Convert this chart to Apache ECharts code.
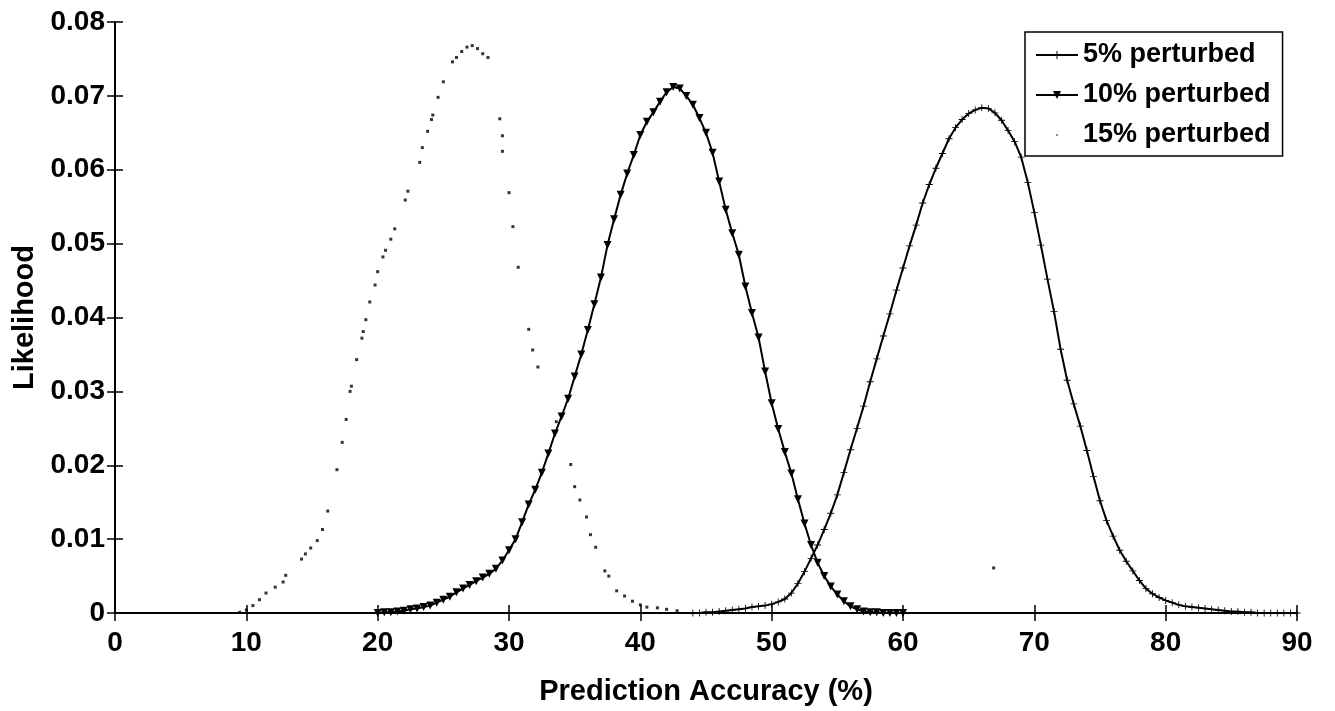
<!DOCTYPE html>
<html>
<head>
<meta charset="utf-8">
<title>Likelihood vs Prediction Accuracy</title>
<script src="https://cdn.jsdelivr.net/npm/echarts@6/dist/echarts.min.js"></script>
<style>
  html, body { margin: 0; padding: 0; background: #fff; }
  #chart { width: 1335px; height: 711px; }
</style>
</head>
<body>
<div id="chart"></div>
<script>
// 5% perturbed
const acc5 = [44, 44.5, 45, 45.5, 46, 46.5, 47, 47.5, 48, 48.5, 49, 49.5, 50, 50.5, 51, 51.5, 52, 52.5, 53, 53.5,
  54, 54.5, 55, 55.5, 56, 56.5, 57, 57.5, 58, 58.5, 59, 59.5, 60, 60.5, 61, 61.5, 62, 62.5, 63, 63.5,
  64, 64.5, 65, 65.5, 66, 66.5, 67, 67.5, 68, 68.5, 69, 69.5, 70, 70.5, 71, 71.5, 72, 72.5, 73, 73.5,
  74, 74.5, 75, 75.5, 76, 76.5, 77, 77.5, 78, 78.5, 79, 79.5, 80, 80.5, 81, 81.5, 82, 82.5, 83, 83.5,
  84, 84.5, 85, 85.5, 86, 86.5, 87, 87.5, 88, 88.5, 89, 89.5, 90]
const lik5 = [0, 0, 0.0001, 0.0001, 0.0002, 0.0003, 0.0004, 0.0005, 0.0006, 0.0008, 0.0009, 0.0010, 0.0012, 0.0015, 0.0019, 0.0027, 0.0040, 0.0056, 0.0074, 0.0092,
  0.0113, 0.0135, 0.0160, 0.0190, 0.0221, 0.0250, 0.0280, 0.0313, 0.0344, 0.0375, 0.0405, 0.0437, 0.0467, 0.0497, 0.0525, 0.0555, 0.0580, 0.0602, 0.0622, 0.0642,
  0.0657, 0.0668, 0.0676, 0.0681, 0.0684, 0.0683, 0.0677, 0.0667, 0.0653, 0.0638, 0.0617, 0.0583, 0.0542, 0.0498, 0.0452, 0.0408, 0.0357, 0.0315, 0.0283, 0.0253,
  0.0220, 0.0185, 0.0152, 0.0125, 0.0104, 0.0085, 0.0070, 0.0057, 0.0044, 0.0033, 0.0026, 0.0021, 0.0017, 0.0014, 0.0011, 0.0009, 0.0008, 0.0007, 0.0006, 0.0005,
  0.0004, 0.0003, 0.0002, 0.0002, 0.0001, 0.0001, 0, 0, 0, 0, 0, 0, 0]

// 10% perturbed
const acc10 = [20, 20.5, 21, 21.5, 22, 22.5, 23, 23.5, 24, 24.5, 25, 25.5, 26, 26.5, 27, 27.5, 28, 28.5, 29, 29.5,
  30, 30.5, 31, 31.5, 32, 32.5, 33, 33.5, 34, 34.5, 35, 35.5, 36, 36.5, 37, 37.5, 38, 38.5, 39, 39.5,
  40, 40.5, 41, 41.5, 42, 42.5, 43, 43.5, 44, 44.5, 45, 45.5, 46, 46.5, 47, 47.5, 48, 48.5, 49, 49.5,
  50, 50.5, 51, 51.5, 52, 52.5, 53, 53.5, 54, 54.5, 55, 55.5, 56, 56.5, 57, 57.5, 58, 58.5, 59, 59.5, 60]
const lik10 = [0, 0.0001, 0.0001, 0.0002, 0.0003, 0.0005, 0.0006, 0.0008, 0.0010, 0.0014, 0.0018, 0.0022, 0.0028, 0.0033, 0.0038, 0.0043, 0.0048, 0.0053, 0.0060, 0.0071,
  0.0085, 0.0100, 0.0123, 0.0147, 0.0167, 0.0190, 0.0216, 0.0243, 0.0266, 0.0290, 0.0320, 0.0350, 0.0383, 0.0418, 0.0454, 0.0498, 0.0533, 0.0566, 0.0595, 0.0620,
  0.0647, 0.0665, 0.0678, 0.0692, 0.0705, 0.0712, 0.0710, 0.0700, 0.0688, 0.0670, 0.0650, 0.0623, 0.0584, 0.0546, 0.0514, 0.0485, 0.0442, 0.0406, 0.0373, 0.0327,
  0.0284, 0.0249, 0.0218, 0.0189, 0.0154, 0.0121, 0.0092, 0.0068, 0.0050, 0.0036, 0.0025, 0.0016, 0.0009, 0.0005, 0.0002, 0.0001, 0.0001, 0, 0, 0, 0]

// 15% perturbed (scattered dots)
const acc15 = [9.5, 10.0, 10.5, 11.0, 11.5, 12.2, 12.8, 13.0, 14.2, 14.5, 14.9, 15.4, 15.8, 16.2, 16.9, 17.3, 17.6, 17.9, 18.0, 18.4,
  18.8, 18.9, 19.1, 19.4, 19.8, 20.0, 20.4, 20.6, 21.0, 21.3, 22.1, 22.3, 23.2, 23.4, 23.8, 24.1, 24.2, 24.6, 25.0, 25.7,
  26.0, 26.4, 26.8, 27.2, 27.6, 28.0, 28.4, 29.3, 29.5, 29.5, 30.0, 30.3, 30.7, 31.5, 31.8, 32.2, 33.6, 34.7, 35.0, 35.4,
  35.9, 36.2, 36.6, 37.3, 37.6, 38.2, 38.8, 39.4, 40.0, 40.5, 41.3, 42.0, 42.8, 66.9]
const lik15 = [0.0001, 0.0004, 0.0010, 0.0018, 0.0027, 0.0035, 0.0042, 0.0051, 0.0073, 0.0080, 0.0088, 0.0098, 0.0113, 0.0138, 0.0194, 0.0231, 0.0262, 0.0300, 0.0307, 0.0343,
  0.0372, 0.0381, 0.0397, 0.0421, 0.0444, 0.0462, 0.0482, 0.0491, 0.0506, 0.0520, 0.0559, 0.0571, 0.0610, 0.0630, 0.0652, 0.0668, 0.0674, 0.0698, 0.0719, 0.0746,
  0.0752, 0.0760, 0.0766, 0.0768, 0.0764, 0.0757, 0.0752, 0.0669, 0.0646, 0.0625, 0.0569, 0.0523, 0.0468, 0.0384, 0.0356, 0.0333, 0.0259, 0.0201, 0.0171, 0.0153,
  0.0130, 0.0106, 0.0089, 0.0057, 0.0050, 0.0030, 0.0023, 0.0016, 0.0011, 0.0008, 0.0007, 0.0005, 0.0003, 0.0061]

const pairs = (xs, ys) => xs.map((x, i) => [x, ys[i]])

const FONT = 'Liberation Sans, Arial, sans-serif'
const plusIcon = 'path://M-0.12,-1H0.12V-0.12H1V0.12H0.12V1H-0.12V0.12H-1V-0.12H-0.12Z'
const dotIcon = 'path://M0,0M20,0M20,20M0,20M8.5,8.5h3v3h-3z'

const chart = echarts.init(document.getElementById('chart'))

const axisLine = { show: true, lineStyle: { color: '#000', width: 2 } }
const tickIn = { show: true, inside: true, length: 8, lineStyle: { color: '#000', width: 1.5 } }
const labelFont = { fontFamily: FONT, fontSize: 28, fontWeight: 'bold', color: '#000' }
const nameFont = { fontFamily: FONT, fontSize: 29, fontWeight: 'bold', color: '#000' }

const option = {
  animation: false,
  backgroundColor: '#fff',
  grid: { left: 115, right: 38, top: 22, bottom: 98 },
  legend: {
    orient: 'vertical',
    left: 1025,
    top: 32,
    padding: [8, 12, 6, 10],
    itemGap: 10,
    itemWidth: 42,
    itemHeight: 10,
    borderColor: '#000',
    borderWidth: 1.5,
    backgroundColor: '#fff',
    textStyle: { fontFamily: FONT, fontSize: 27, fontWeight: 'bold', color: '#000', lineHeight: 30 },
    data: [
      { name: '5% perturbed' },
      { name: '10% perturbed' },
      { name: '15% perturbed', icon: dotIcon }
    ]
  },
  xAxis: [
    {
      type: 'value', min: 0, max: 90, interval: 10,
      axisLine: axisLine, axisTick: tickIn, splitLine: { show: false },
      axisLabel: Object.assign({ margin: 16 }, labelFont),
      name: 'Prediction Accuracy (%)', nameLocation: 'middle', nameGap: 64,
      nameTextStyle: nameFont
    },
    {
      type: 'value', position: 'top', min: 0, max: 90, interval: 10,
      axisLine: axisLine, axisTick: tickIn, axisLabel: { show: false }, splitLine: { show: false }
    }
  ],
  yAxis: [
    {
      type: 'value', min: 0, max: 0.08, interval: 0.01,
      axisLine: axisLine, axisTick: tickIn, splitLine: { show: false },
      axisLabel: Object.assign({ margin: 10, formatter: v => (v === 0 ? '0' : v.toFixed(2)) }, labelFont),
      name: 'Likelihood', nameLocation: 'middle', nameGap: 68,
      nameTextStyle: nameFont
    },
    {
      type: 'value', position: 'right', min: 0, max: 0.08, interval: 0.01,
      axisLine: axisLine, axisTick: tickIn, axisLabel: { show: false }, splitLine: { show: false }
    }
  ],
  series: [
    {
      name: '5% perturbed',
      type: 'line',
      data: pairs(acc5, lik5),
      symbol: plusIcon,
      symbolSize: 7,
      showAllSymbol: true,
      lineStyle: { color: '#000', width: 2 },
      itemStyle: { color: '#000' },
      z: 3
    },
    {
      name: '10% perturbed',
      type: 'line',
      data: pairs(acc10, lik10),
      symbol: 'triangle',
      symbolRotate: 180,
      symbolSize: 8,
      showAllSymbol: true,
      lineStyle: { color: '#000', width: 2 },
      itemStyle: { color: '#000' },
      z: 3
    },
    {
      name: '15% perturbed',
      type: 'scatter',
      data: pairs(acc15, lik15),
      symbol: 'rect',
      symbolSize: 3,
      itemStyle: { color: '#000' },
      z: 2
    }
  ]
}

chart.setOption(option)
</script>
</body>
</html>
